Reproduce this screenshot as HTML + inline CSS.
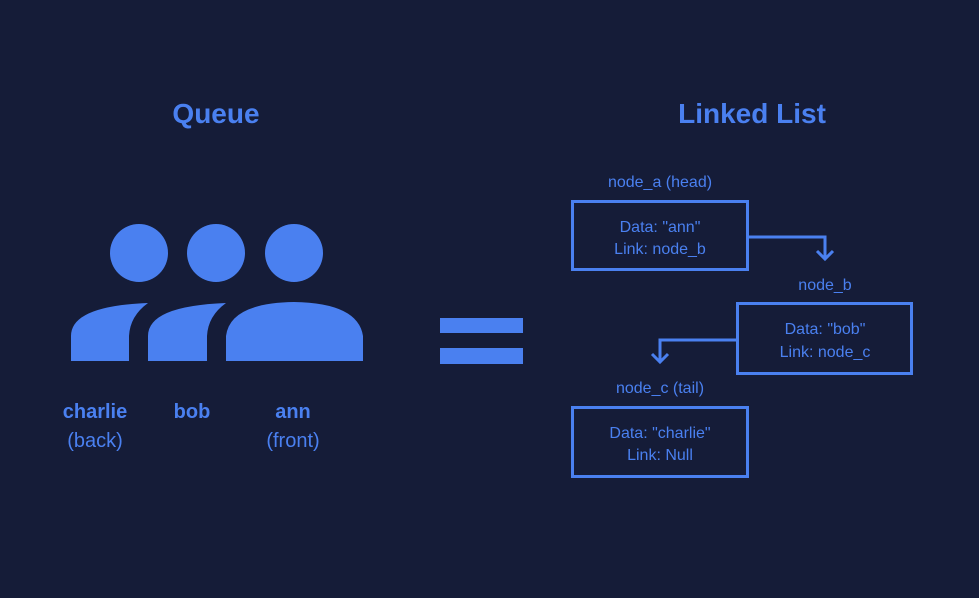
<!DOCTYPE html>
<html><head><meta charset="utf-8"><style>
html,body{margin:0;padding:0;background:#151c38;}
svg{display:block;}
text{font-family:"Liberation Sans",sans-serif;fill:#4a80f0;}
</style></head><body>
<svg width="979" height="598" viewBox="0 0 979 598" xmlns="http://www.w3.org/2000/svg">
<rect width="979" height="598" fill="#151c38"/>
<text x="216" y="123" font-size="28" font-weight="bold" text-anchor="middle">Queue</text>
<text x="752" y="123" font-size="28" font-weight="bold" text-anchor="middle">Linked List</text>
<g fill="#4a80f0">
<circle cx="139" cy="253" r="29"/>
<circle cx="216" cy="253" r="29"/>
<circle cx="294" cy="253" r="29"/>
<path d="M71,361 L71,336 Q71,306 148,303 Q130,316 129,336 L129,361 Z"/>
<path d="M148,361 L148,336 Q148,306 226,303 Q208,316 207,336 L207,361 Z"/>
<path d="M226,361 L226,336 Q230,303 294,302 Q358,303 363,336 L363,361 Z"/>
<rect x="440" y="318" width="83" height="15"/>
<rect x="440" y="348" width="83" height="16"/>
</g>
<g font-size="20" text-anchor="middle">
<text x="95" y="418" font-weight="bold">charlie</text>
<text x="95" y="447">(back)</text>
<text x="192" y="418" font-weight="bold">bob</text>
<text x="293" y="418" font-weight="bold">ann</text>
<text x="293" y="447">(front)</text>
</g>
<g fill="none" stroke="#4a80f0" stroke-width="3">
<rect x="572.5" y="201.5" width="175" height="68"/>
<rect x="737.5" y="303.5" width="174" height="70"/>
<rect x="572.5" y="407.5" width="175" height="69"/>
<polyline points="749,237 825,237 825,259"/>
<polyline points="817,251 825,259 833,251"/>
<polyline points="736,340 660,340 660,362"/>
<polyline points="652,354 660,362 668,354"/>
</g>
<g font-size="16" text-anchor="middle">
<text x="660" y="187">node_a (head)</text>
<text x="660" y="232">Data: "ann"</text>
<text x="660" y="254">Link: node_b</text>
<text x="825" y="290">node_b</text>
<text x="825" y="334">Data: "bob"</text>
<text x="825" y="357">Link: node_c</text>
<text x="660" y="393">node_c (tail)</text>
<text x="660" y="438">Data: "charlie"</text>
<text x="660" y="460">Link: Null</text>
</g>
</svg>
</body></html>
